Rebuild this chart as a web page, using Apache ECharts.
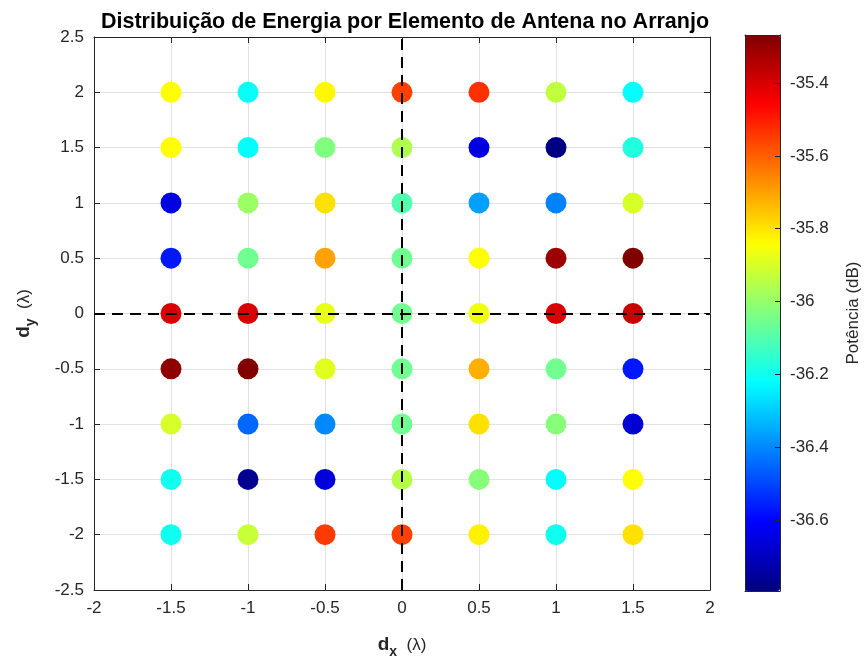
<!DOCTYPE html>
<html>
<head>
<meta charset="utf-8">
<script src="https://cdn.jsdelivr.net/npm/echarts@6/dist/echarts.min.js"></script>
<style>html,body{margin:0;padding:0;background:#fff}#c{width:866px;height:662px}</style>
</head>
<body>
<div id="c"></div>
<script>
// Element positions (lambda)
var xPositions = [-1.5, -1, -0.5, 0, 0.5, 1, 1.5];
var yPositions = [2, 1.5, 1, 0.5, 0, -0.5, -1, -1.5, -2];
// Power (dB) per row, rows ordered as yPositions, columns as xPositions
var powerRow_y2    = [-35.84, -36.21, -35.83, -35.555, -35.53, -35.936, -36.22];
var powerRow_y1_5  = [-35.84, -36.22, -36.03, -35.96, -36.65, -36.79, -36.175];
var powerRow_y1    = [-36.65, -35.99, -35.795, -36.10, -36.365, -36.41, -35.90];
var powerRow_y0_5  = [-36.57, -36.055, -35.70, -36.055, -35.84, -35.31, -35.27];
var powerRow_y0    = [-35.40, -35.40, -35.875, -36.055, -35.863, -35.40, -35.375];
var powerRow_ym0_5 = [-35.29, -35.27, -35.886, -36.055, -35.72, -36.055, -36.57];
var powerRow_ym1   = [-35.90, -36.45, -36.40, -36.055, -35.795, -36.02, -36.67];
var powerRow_ym1_5 = [-36.20, -36.77, -36.66, -35.95, -36.02, -36.22, -35.84];
var powerRow_ym2   = [-36.20, -35.925, -35.545, -35.555, -35.82, -36.20, -35.795];
var powerRows = [powerRow_y2, powerRow_y1_5, powerRow_y1, powerRow_y0_5, powerRow_y0,
                 powerRow_ym0_5, powerRow_ym1, powerRow_ym1_5, powerRow_ym2];
var colorMin = -36.795, colorMax = -35.268;
var colorbarTicks = [-36.6, -36.4, -36.2, -36, -35.8, -35.6, -35.4];
var xTickStep = 0.5, yTickStep = 0.5;

var points = [];
for (var r = 0; r < yPositions.length; r++) {
  for (var c = 0; c < xPositions.length; c++) {
    points.push([xPositions[c], yPositions[r], powerRows[r][c]]);
  }
}

var FONT = 'Liberation Sans';
var AX = '#262626';
var G = {left: 94, right: 156, top: 37, bottom: 72};
var CB = {left: 745, top: 35, width: 35, height: 556};
var jet = ['#000080', '#0000ff', '#0080ff', '#00ffff', '#80ff80', '#ffff00', '#ff8000', '#ff0000', '#800000'];

function fmt(v) { return String(Math.round(v * 10) / 10); }

var chart = echarts.init(document.getElementById('c'), null, {renderer: 'canvas'});
chart.setOption({
  animation: false,
  backgroundColor: '#fff',
  textStyle: {fontFamily: FONT},
  title: {
    text: 'Distribuição de Energia por Elemento de Antena no Arranjo',
    left: 96, top: 6,
    textStyle: {fontFamily: FONT, fontWeight: 'bold', fontSize: 21.5, color: '#000'}
  },
  grid: [
    {left: G.left, right: G.right, top: G.top, bottom: G.bottom, containLabel: false, outerBoundsMode: 'none'},
    {left: CB.left, top: CB.top, width: CB.width, height: CB.height, containLabel: false, outerBoundsMode: 'none'}
  ],
  xAxis: [
    {
      gridIndex: 0, type: 'value', min: -2, max: 2, interval: xTickStep, position: 'bottom',
      axisLine: {show: true, onZero: false, lineStyle: {color: AX, width: 1}},
      axisTick: {show: true, inside: true, length: 6, lineStyle: {color: AX}},
      splitLine: {show: true, lineStyle: {color: '#e3e3e3', width: 1}},
      axisLabel: {fontSize: 17, color: AX, margin: 10, fontFamily: FONT},
      name: '{d|d}{s|x}{l|  (λ)}', nameLocation: 'middle', nameGap: 41,
      nameTextStyle: {
        rich: {
          d: {fontSize: 19, fontWeight: 'bold', color: AX, lineHeight: 28, fontFamily: FONT},
          s: {fontSize: 14, fontWeight: 'bold', color: AX, lineHeight: 14, verticalAlign: 'bottom', fontFamily: FONT},
          l: {fontSize: 17, color: AX, lineHeight: 28, fontFamily: FONT}
        }
      }
    },
    {
      gridIndex: 0, type: 'value', min: -2, max: 2, interval: xTickStep, position: 'top',
      axisLine: {show: true, onZero: false, lineStyle: {color: AX, width: 1}},
      axisTick: {show: true, inside: true, length: 6, lineStyle: {color: AX}},
      splitLine: {show: false}, axisLabel: {show: false}
    },
    {
      gridIndex: 1, type: 'value', min: 0, max: 1, position: 'bottom', z: 6,
      axisLine: {show: true, onZero: false, lineStyle: {color: AX, width: 1}},
      axisTick: {show: false}, splitLine: {show: false}, axisLabel: {show: false}
    },
    {
      gridIndex: 1, type: 'value', min: 0, max: 1, position: 'top', z: 6,
      axisLine: {show: true, onZero: false, lineStyle: {color: AX, width: 1}},
      axisTick: {show: false}, splitLine: {show: false}, axisLabel: {show: false}
    }
  ],
  yAxis: [
    {
      gridIndex: 0, type: 'value', min: -2.5, max: 2.5, interval: yTickStep, position: 'left',
      axisLine: {show: true, onZero: false, lineStyle: {color: AX, width: 1}},
      axisTick: {show: true, inside: true, length: 6, lineStyle: {color: AX}},
      splitLine: {show: true, lineStyle: {color: '#e3e3e3', width: 1}},
      axisLabel: {fontSize: 17, color: AX, margin: 10, fontFamily: FONT},
      name: '{d|d}{s|y}{l|  (λ)}', nameLocation: 'middle', nameGap: 56, nameRotate: 90,
      nameTextStyle: {
        rich: {
          d: {fontSize: 19, fontWeight: 'bold', color: AX, lineHeight: 28, fontFamily: FONT},
          s: {fontSize: 14, fontWeight: 'bold', color: AX, lineHeight: 14, verticalAlign: 'bottom', fontFamily: FONT},
          l: {fontSize: 17, color: AX, lineHeight: 28, fontFamily: FONT}
        }
      }
    },
    {
      gridIndex: 0, type: 'value', min: -2.5, max: 2.5, interval: yTickStep, position: 'right',
      axisLine: {show: true, onZero: false, lineStyle: {color: AX, width: 1}},
      axisTick: {show: true, inside: true, length: 6, lineStyle: {color: AX}},
      splitLine: {show: false}, axisLabel: {show: false}
    },
    {
      gridIndex: 1, type: 'value', min: colorMin, max: colorMax, position: 'right', z: 6,
      axisLine: {show: true, onZero: false, lineStyle: {color: AX, width: 1}},
      axisTick: {show: true, inside: true, length: 5, lineStyle: {color: AX}, customValues: colorbarTicks},
      axisLabel: {show: true, fontSize: 17, color: AX, margin: 10, fontFamily: FONT,
                  customValues: colorbarTicks, formatter: function (v) { return fmt(v); }},
      splitLine: {show: false},
      name: 'Potência (dB)', nameLocation: 'middle', nameGap: 65, nameRotate: 90,
      nameTextStyle: {fontSize: 17, color: AX, fontFamily: FONT}
    },
    {
      gridIndex: 1, type: 'value', min: colorMin, max: colorMax, position: 'left', z: 6,
      axisLine: {show: true, onZero: false, lineStyle: {color: AX, width: 1}},
      axisTick: {show: false}, splitLine: {show: false}, axisLabel: {show: false}
    }
  ],
  visualMap: {
    type: 'continuous', min: colorMin, max: colorMax, dimension: 2, seriesIndex: 1,
    left: CB.left, top: CB.top, itemWidth: CB.width, itemHeight: CB.height,
    padding: 0, calculable: false, hoverLink: false, text: null, realtime: false,
    inRange: {color: jet}, z: 4
  },
  series: [
    {
      type: 'scatter', xAxisIndex: 0, yAxisIndex: 0, data: [], z: 1, silent: true,
      markLine: {
        silent: true, symbol: 'none', label: {show: false},
        lineStyle: {color: '#000', width: 2, type: [11, 7]},
        data: [{xAxis: 0}, {yAxis: 0}]
      }
    },
    {
      type: 'scatter', xAxisIndex: 0, yAxisIndex: 0, z: 3,
      symbol: 'circle', symbolSize: 21,
      itemStyle: {opacity: 1},
      data: points
    }
  ]
});
</script>
</body>
</html>
